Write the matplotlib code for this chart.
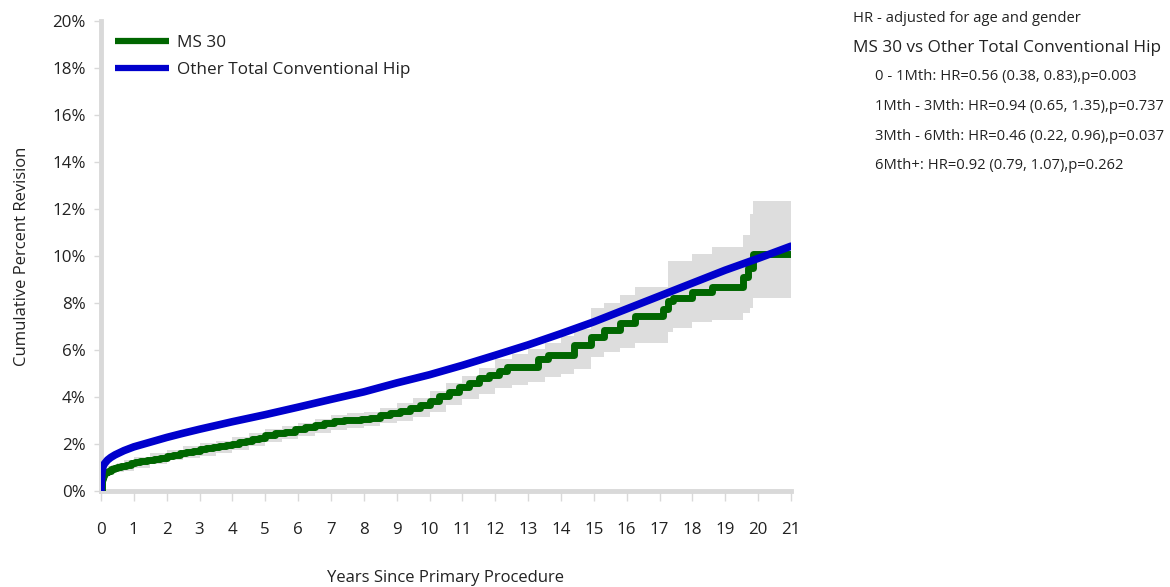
import matplotlib
matplotlib.use("Agg")
import matplotlib.pyplot as plt

# MS 30 (step curve) and its confidence band
ms30_years = [0, 0.02, 0.04, 0.07, 0.1, 0.15, 0.2, 0.3, 0.4, 0.5, 0.6, 0.75, 0.9, 1.05,
              1.2, 1.4, 1.6, 1.8, 2.0, 2.2, 2.4, 2.6, 2.8, 3.0, 3.2, 3.4, 3.6, 3.8, 4.0,
              4.2, 4.4, 4.6, 4.8, 5.0, 5.3, 5.6, 5.9, 6.2, 6.5, 6.8, 7.1, 7.4, 7.9, 8.2,
              8.5, 8.8, 9.1, 9.4, 9.7, 10.0, 10.3, 10.6, 10.9, 11.2, 11.5, 11.8, 12.1,
              12.35, 13.3, 13.6, 14.4, 14.9, 15.3, 15.8, 16.25, 17.1, 17.25, 17.4, 18.0,
              18.6, 19.55, 19.7, 19.85, 21.0]
ms30_crr = [0, 0.3, 0.5, 0.65, 0.75, 0.82, 0.87, 0.93, 0.98, 1.02, 1.06, 1.12, 1.18, 1.23,
            1.27, 1.31, 1.36, 1.42, 1.48, 1.55, 1.6, 1.65, 1.7, 1.77, 1.83, 1.87, 1.92,
            1.97, 2.02, 2.07, 2.12, 2.2, 2.27, 2.4, 2.47, 2.53, 2.62, 2.72, 2.8, 2.9,
            2.98, 3.02, 3.05, 3.12, 3.22, 3.32, 3.42, 3.52, 3.68, 3.85, 4.05, 4.22, 4.42,
            4.6, 4.8, 4.95, 5.12, 5.28, 5.62, 5.8, 6.2, 6.55, 6.85, 7.15, 7.45, 7.75,
            8.1, 8.2, 8.47, 8.7, 9.1, 9.5, 10.08, 10.08]

band_years = [0, 0.02, 0.05, 0.1, 0.2, 0.3, 0.5, 0.7, 1.0, 1.5, 2.0, 2.5, 3.0, 3.5, 4.0,
              4.5, 5.0, 5.5, 6.0, 6.5, 7.0, 7.5, 8.0, 8.5, 9.0, 9.5, 10.0, 10.5, 11.0,
              11.5, 12.0, 12.5, 13.0, 13.5, 14.0, 14.4, 14.9, 15.3, 15.8, 16.25, 17.25,
              17.4, 18.0, 18.6, 19.55, 19.75, 19.85, 21.0]
band_upper = [0, 0.5, 0.75, 0.95, 1.05, 1.12, 1.2, 1.3, 1.45, 1.6, 1.75, 1.9, 2.05, 2.15,
              2.3, 2.45, 2.65, 2.75, 2.9, 3.05, 3.25, 3.3, 3.35, 3.55, 3.75, 3.95, 4.25,
              4.6, 4.9, 5.25, 5.6, 5.85, 6.05, 6.3, 6.6, 6.9, 7.8, 8.0, 8.35, 8.7, 9.8,
              9.8, 10.1, 10.4, 10.9, 11.8, 12.35, 12.35]
band_lower = [0, 0.15, 0.35, 0.55, 0.68, 0.75, 0.8, 0.85, 1.0, 1.15, 1.3, 1.4, 1.5, 1.62,
              1.75, 1.9, 2.1, 2.22, 2.35, 2.48, 2.6, 2.68, 2.75, 2.88, 3.0, 3.15, 3.35,
              3.65, 3.9, 4.15, 4.4, 4.52, 4.65, 4.85, 5.0, 5.2, 5.7, 5.9, 6.1, 6.3, 6.77,
              6.93, 7.2, 7.27, 7.57, 7.8, 8.2, 8.2]

# Other Total Conventional Hip
other_years = [0, 0.01, 0.03, 0.06, 0.1, 0.2, 0.3, 0.43, 0.7, 1.0, 1.5, 2.0, 2.5, 3.0,
               3.5, 4.0, 4.5, 5.0, 5.5, 6, 7, 8, 9, 10, 11, 12, 13, 14, 15, 16, 17, 18,
               19, 20, 21]
other_crr = [0, 0.4, 0.8, 1.03, 1.15, 1.32, 1.43, 1.54, 1.72, 1.88, 2.08, 2.28, 2.46,
             2.63, 2.79, 2.95, 3.1, 3.25, 3.41, 3.57, 3.9, 4.22, 4.6, 4.95, 5.35, 5.78,
             6.22, 6.7, 7.2, 7.75, 8.3, 8.85, 9.4, 9.9, 10.42]

hr_lines = ["0 - 1Mth: HR=0.56 (0.38, 0.83),p=0.003",
            "1Mth - 3Mth: HR=0.94 (0.65, 1.35),p=0.737",
            "3Mth - 6Mth: HR=0.46 (0.22, 0.96),p=0.037",
            "6Mth+: HR=0.92 (0.79, 1.07),p=0.262"]

plt.rcParams['font.family'] = ['Open Sans', 'DejaVu Sans']
txt = '#222222'
spine_grey = '#d9d9d9'

fig = plt.figure(figsize=(11.7, 5.87), dpi=100)
ax = fig.add_axes([0.0863, 0.1635, 0.5897, 0.8005])

ax.fill_between(band_years, band_lower, band_upper, step='post',
                color='#dddddd', linewidth=0, zorder=1)
ax.step(ms30_years, ms30_crr, where='post', color='#006600', linewidth=5,
        label='MS 30', zorder=2)
ax.plot(other_years, other_crr, color='#0000cc', linewidth=5.5,
        solid_capstyle='round', label='Other Total Conventional Hip', zorder=3)

ax.set_xlim(0, 21)
ax.set_ylim(0, 20)
ax.set_xticks(range(0, 22))
ax.set_yticks(range(0, 21, 2))
ax.set_yticklabels([f"{v}%" for v in range(0, 21, 2)])

for s in ['top', 'right']:
    ax.spines[s].set_visible(False)
for s in ['left', 'bottom']:
    ax.spines[s].set_color(spine_grey)
    ax.spines[s].set_linewidth(3.5)
    ax.spines[s].set_zorder(0)

ax.tick_params(axis='x', colors=spine_grey, length=7, width=1, pad=15,
               labelsize=12.2, labelcolor=txt)
ax.tick_params(axis='y', colors=spine_grey, length=5, width=1, pad=6,
               labelsize=12.2, labelcolor=txt)

ax.set_xlabel("Years Since Primary Procedure", fontsize=12, color=txt, labelpad=23)
ax.set_ylabel("Cumulative Percent Revision", fontsize=12, color=txt, labelpad=16)

leg = ax.legend(loc='upper left', bbox_to_anchor=(-0.005, 1.007), frameon=False,
                fontsize=12.3, handlelength=3.2, handletextpad=0.45, labelspacing=0.65,
                borderaxespad=0.6)
for h in leg.get_lines():
    h.set_linewidth(4.5)
    h.set_solid_capstyle('butt')
for t in leg.get_texts():
    t.set_color(txt)

fig.text(853 / 1170, 1 - 18 / 587, "HR - adjusted for age and gender", fontsize=10.6,
         color=txt, va='center', ha='left')
fig.text(853 / 1170, 1 - 48 / 587, "MS 30 vs Other Total Conventional Hip", fontsize=12.3,
         color=txt, va='center', ha='left')
for i, line in enumerate(hr_lines):
    fig.text(875 / 1170, 1 - (77 + 29.5 * i) / 587, line, fontsize=10.6, color=txt,
             va='center', ha='left')

fig.savefig("out.png", dpi=100)
